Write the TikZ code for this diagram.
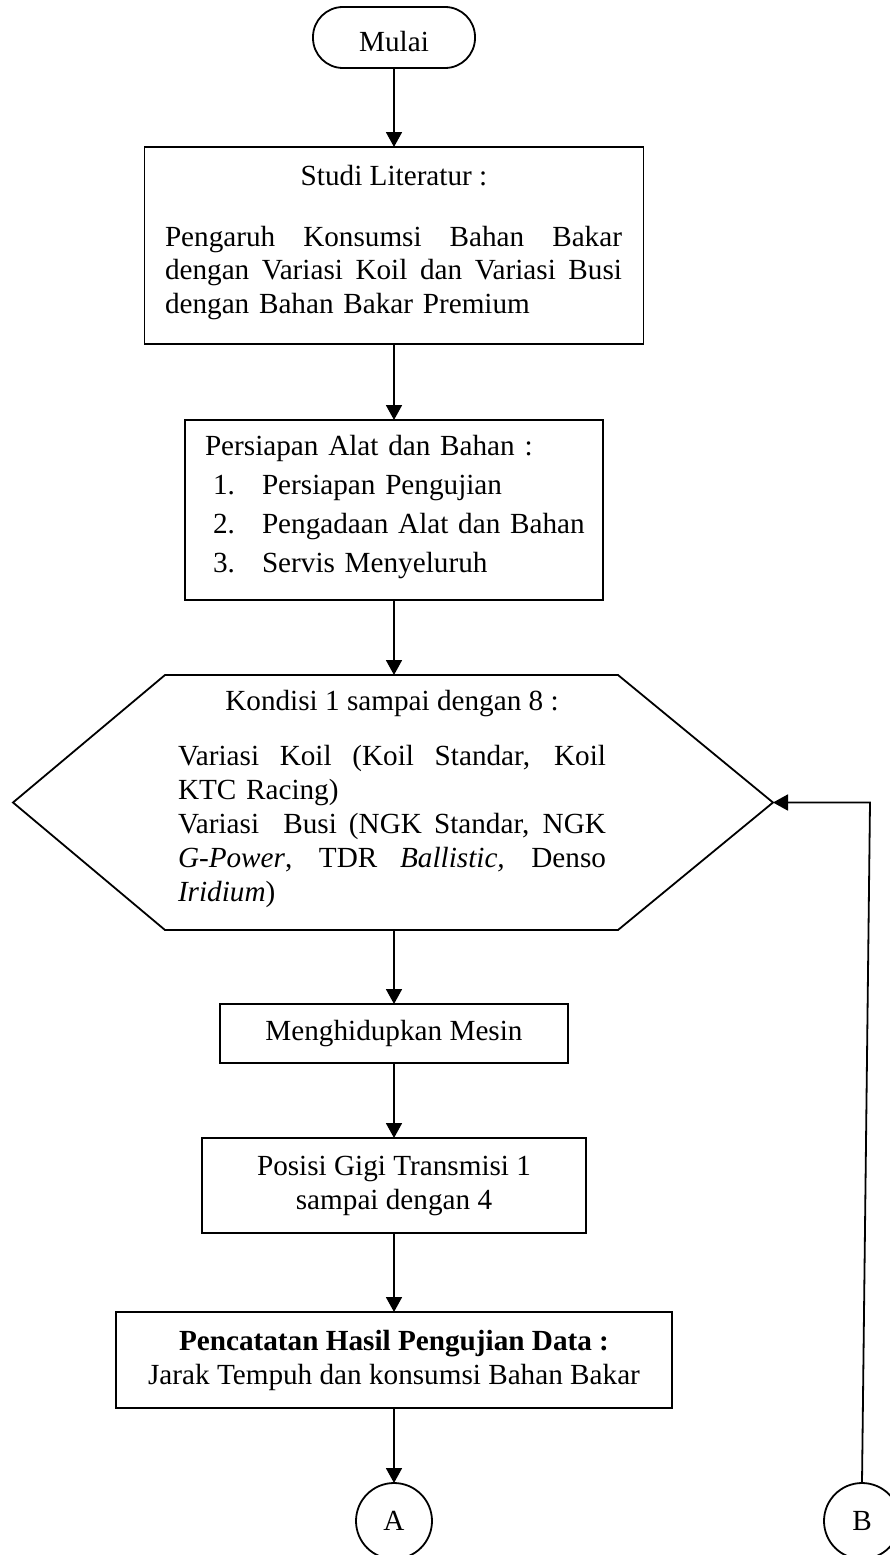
\documentclass[tikz,border=0pt]{standalone}
\usepackage{fontspec}
\setmainfont{Liberation Serif}
\usetikzlibrary{arrows.meta}
% a line set full width, its interword spaces stretched evenly
\newcommand{\fullline}[2]{\leavevmode\hbox to #1{\spaceskip=0.25em plus 1fil\relax #2}}
\newcommand{\widegap}{\hskip 0.5em plus 2fil\relax}
\begin{document}
\begin{tikzpicture}[x=1pt,y=-1pt,
  every node/.style={inner sep=0pt, outer sep=0pt},
  flowline/.style={line width=1.8pt},
  arr/.style={flowline,-{Triangle[width=16pt,length=15pt]}},
  stepbox/.style={draw, rectangle, line width=1.8pt, align=center,
    font=\fontsize{29.2}{34}\selectfont},
  txt/.style={font=\fontsize{29.2}{33.6}\selectfont},
  connector/.style={draw, circle, line width=1.8pt, minimum size=76pt,
    font=\fontsize{29.2}{34}\selectfont}]
\useasboundingbox (0,0) rectangle (890,1555);

% start terminator
\node[stepbox, rounded corners=30pt, minimum width=162pt, minimum height=61pt,
  text height=29pt, text depth=0pt] (mulai) at (394,37.5) {Mulai};

% literature study
\node[stepbox, minimum width=499pt, minimum height=197pt] (box1) at (394,245.5) {};
\node[txt, anchor=base] (t1a) at (394,185) {Studi Literatur :};
\node[txt, anchor=base west, text width=457pt, align=left] (t1b) at (165,246)
  {\fullline{457pt}{Pengaruh Konsumsi Bahan Bakar}\\
   \fullline{457pt}{dengan Variasi Koil dan Variasi Busi}\\
   dengan Bahan Bakar Premium};

% preparation
\node[stepbox, minimum width=418pt, minimum height=180pt] (box2) at (394,510) {};
\node[anchor=base west, text width=390pt, align=left,
  font=\fontsize{29.2}{39}\selectfont] (t2) at (205,455)
  {Persiapan Alat dan Bahan :\\
   \hspace*{8pt}\makebox[49pt][l]{1.}Persiapan Pengujian\\
   \hspace*{8pt}\makebox[49pt][l]{2.}Pengadaan Alat dan Bahan\\
   \hspace*{8pt}\makebox[49pt][l]{3.}Servis Menyeluruh};

% test conditions (hexagon)
\node[minimum width=760pt, minimum height=255pt] (kond) at (393,802.5) {};
\draw[flowline] (kond.west) -- ([xshift=152pt]kond.north west)
  -- ([xshift=-155pt]kond.north east) -- (kond.east)
  -- ([xshift=-155pt]kond.south east) -- ([xshift=152pt]kond.south west) -- cycle;
\node[txt, anchor=base] (t3a) at (392,710) {Kondisi 1 sampai dengan 8 :};
\node[anchor=base west, text width=428pt, align=left,
  font=\fontsize{29.2}{34.2}\selectfont] (t3b) at (178,765)
  {\fullline{428pt}{Variasi Koil (Koil Standar, Koil}\\
   KTC Racing)\\
   \fullline{428pt}{Variasi\widegap Busi (NGK Standar, NGK}\\
   \fullline{428pt}{\textit{G-Power}, TDR \textit{Ballistic,} Denso}\\
   \textit{Iridium})};

% engine start, gear positions, recording
\node[stepbox, minimum width=348pt, minimum height=59pt] (box3) at (394,1033.5)
  {Menghidupkan Mesin};
\node[stepbox, minimum width=384pt, minimum height=95pt] (box4) at (394,1185.5)
  {Posisi Gigi Transmisi 1\\sampai dengan 4};
\node[stepbox, minimum width=556pt, minimum height=96pt] (box5) at (394,1360)
  {\textbf{Pencatatan Hasil Pengujian Data :}\\Jarak Tempuh dan konsumsi Bahan Bakar};

% off-page connectors
\node[connector] (A) at (394,1521) {A};
\node[connector] (B) at (862,1521) {B};
\coordinate (bend) at (870,802.5);

% flow lines
\draw[arr] (mulai.south) -- (box1.north);
\draw[arr] (box1.south) -- (box2.north);
\draw[arr] (box2.south) -- (box2.south |- kond.north);
\draw[arr] (box3.north |- kond.south) -- (box3.north);
\draw[arr] (box3.south) -- (box4.north);
\draw[arr] (box4.south) -- (box5.north);
\draw[arr] (box5.south) -- (A.north);
\draw[arr] (B.north) -- (bend) -- (kond.east);
\end{tikzpicture}
\end{document}
